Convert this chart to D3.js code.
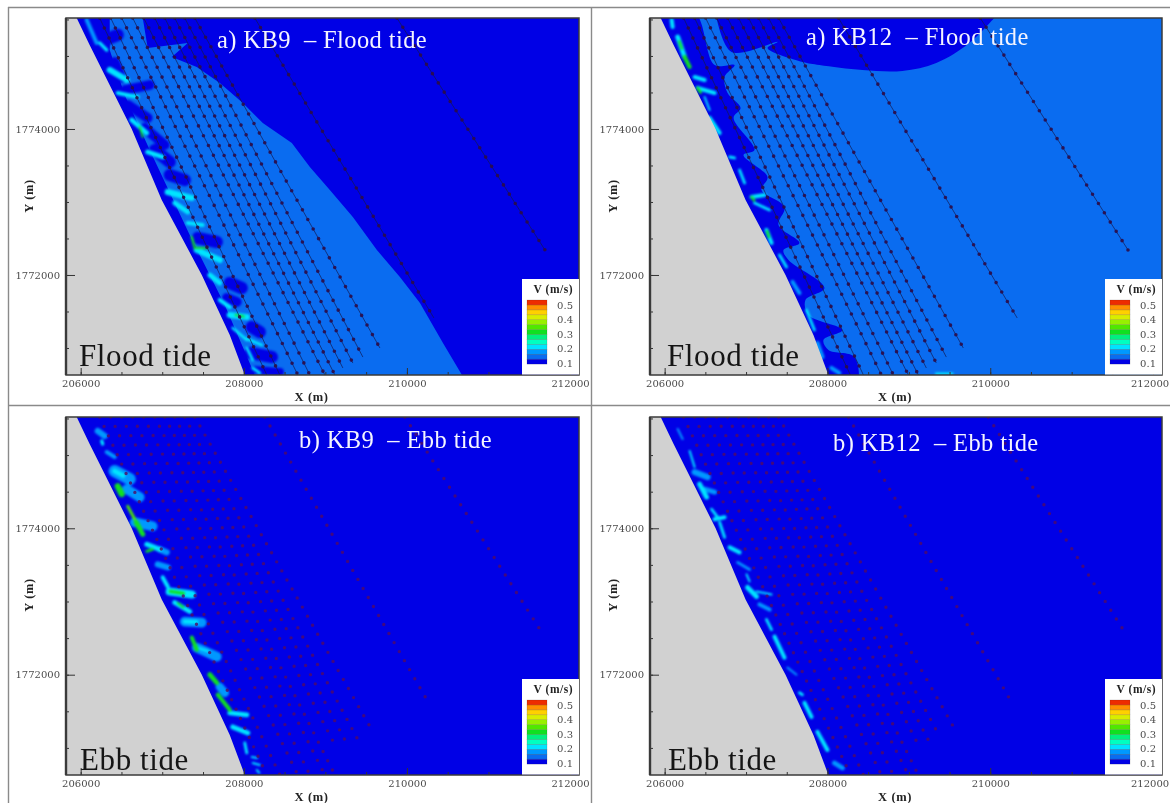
<!DOCTYPE html>
<html>
<head>
<meta charset="utf-8">
<script src="https://cdn.jsdelivr.net/npm/d3@7"></script>
<style>
  html, body { margin: 0; background: #fff; overflow: hidden; }
  svg { display: block; filter: blur(0.45px); }
  text { white-space: pre; }
  .plumes { filter: blur(0.9px); }
</style>
</head>
<body>
<svg id="chart" width="1170" height="803"></svg>
<script>
// Domain of every panel, in model metres
const xDomain = [205820, 212110];
const yDomain = [1770630, 1775520];
const majorTicksX = [206000, 208000, 210000, 212000];
const minorTicksX = d3.range(206000, 212001, 500);
const majorTicksY = [1772000, 1774000];
const minorTicksY = d3.range(1771000, 1775501, 500);

// Legend: contour level edges and the band colours between them
const levelEdges = [0.0925, 0.1265, 0.1605, 0.1945, 0.2285, 0.2625, 0.2965, 0.3305, 0.3645, 0.3985, 0.4325, 0.4665, 0.5005, 0.5345];
const bandColors = ['#0000e6', '#0a6cf0', '#0098ff', '#00e4ff', '#00ffc0', '#00f080', '#10e020', '#50e800', '#98f000', '#d8ee00', '#ffd000', '#ff9000', '#ee2c00'];
const legendTicks = [0.1, 0.2, 0.3, 0.4, 0.5];

// Shoreline, north to south
const coastline = [[205951, 1775520], [206110, 1775150], [206294, 1774740], [206626, 1774000], [206994, 1773027], [207485, 1772000], [207828, 1771178], [208012, 1770630]];

// Transect lines: X at the top edge and the end point
const floodTopX = [206233, 206368, 206503, 206638, 206773, 206908, 207031, 207153, 207276, 207399, 208135, 209877];
const floodEndX = [208282, 208442, 208663, 208810, 208994, 209117, 209215, 209337, 209460, 209669, 210331, 211693];
const floodEndY = [1770630, 1770630, 1770630, 1770630, 1770630, 1770630, 1770726, 1770794, 1770876, 1771000, 1771411, 1772342];
const ebbTopX = [206233, 206368, 206503, 206638, 206773, 206908, 207031, 207153, 207276, 207399, 208258, 209975];
const ebbEndX = [208282, 208442, 208663, 208810, 208994, 209117, 209117, 209239, 209387, 209583, 210245, 211632];
const ebbEndY = [1770630, 1770630, 1770630, 1770630, 1770630, 1770630, 1771041, 1771109, 1771137, 1771219, 1771657, 1772616];

// Contour regions
const kb9FloodMid = [[206356, 1775520], [206761, 1775520], [206822, 1775110], [207313, 1775178], [207117, 1774986], [207423, 1774849], [207706, 1774630], [207988, 1774356], [208233, 1774082], [208589, 1773808], [208810, 1773479], [209055, 1773164], [209337, 1772794], [209632, 1772342], [209914, 1771972], [210160, 1771616], [210442, 1771068], [210675, 1770630], [208135, 1770630], [207767, 1771589], [207337, 1772548], [206847, 1773712], [206540, 1774466], [206356, 1775082]];
const kb12FloodShore = [[205951, 1775600], [206368, 1775600], [206614, 1774877], [206859, 1774877], [206736, 1774712], [206773, 1774493], [206933, 1774288], [206847, 1774151], [207104, 1773712], [206969, 1773644], [207264, 1773342], [207190, 1773164], [207472, 1772931], [207399, 1772685], [207656, 1772438], [207460, 1772342], [207521, 1772205], [207963, 1771822], [207730, 1771657], [207767, 1771452], [208184, 1771246], [207951, 1771109], [208012, 1770972], [208331, 1770876], [208356, 1770500], [208012, 1770500], [207000, 1773000]];
const kb12FloodCap = [[206638, 1775520], [206822, 1775055], [207387, 1775192], [207264, 1775110], [207693, 1774918], [207902, 1774877], [208429, 1774808], [208920, 1774795], [209337, 1774904], [209742, 1775178], [210049, 1775520]];

// Velocity plumes off the shore: x1, y1, x2, y2, width in metres, V
const kb9FloodPlumes = [
  [206294, 1775219, 206454, 1775288, 150, 0.1], [206417, 1774918, 206503, 1774699, 120, 0.1],
  [206540, 1774534, 206847, 1774603, 120, 0.1], [206577, 1774329, 206822, 1774151, 120, 0.1],
  [206785, 1774014, 207031, 1773781, 120, 0.1], [206908, 1773712, 207092, 1773548, 150, 0.1],
  [207092, 1773370, 207276, 1773301, 150, 0.1], [207436, 1772507, 207669, 1772452, 150, 0.1],
  [207828, 1771890, 207975, 1771822, 150, 0.1], [207791, 1771685, 207914, 1771630, 120, 0.1],
  [208098, 1771287, 208196, 1771219, 150, 0.1], [208074, 1770931, 208344, 1770876, 150, 0.1],
  [208135, 1770698, 208442, 1770671, 100, 0.1],
  [206356, 1774808, 206564, 1774671, 75, 0.2], [206454, 1774493, 206699, 1774438, 50, 0.2],
  [206626, 1774123, 206810, 1773945, 60, 0.2], [206724, 1774027, 206761, 1773890, 25, 0.31],
  [206822, 1773685, 207006, 1773616, 60, 0.2], [207067, 1773137, 207362, 1773055, 75, 0.2],
  [207153, 1772986, 207313, 1772863, 60, 0.2], [207313, 1772712, 207497, 1772685, 50, 0.2],
  [207423, 1772342, 207706, 1772205, 75, 0.2], [207362, 1772520, 207399, 1772370, 30, 0.31],
  [207399, 1772370, 207558, 1772370, 25, 0.31], [207583, 1772000, 207706, 1771890, 60, 0.2],
  [207706, 1771657, 207828, 1771561, 50, 0.2], [207828, 1771452, 208037, 1771424, 75, 0.2],
  [207900, 1771452, 208000, 1771430, 25, 0.31], [207865, 1771274, 208037, 1771109, 35, 0.2],
  [208012, 1771137, 208221, 1771041, 35, 0.2], [208037, 1771000, 208110, 1770835, 35, 0.2],
  [208110, 1770726, 208196, 1770657, 35, 0.2], [206074, 1775493, 206196, 1775178, 50, 0.17],
  [206233, 1775178, 206319, 1775082, 40, 0.2]
];
const kb12FloodPlumes = [
  [206086, 1775493, 206098, 1775397, 50, 0.2], [206160, 1775260, 206245, 1774986, 60, 0.2],
  [206180, 1775200, 206210, 1775100, 30, 0.31], [206245, 1774986, 206307, 1774849, 50, 0.31],
  [206368, 1774712, 206491, 1774671, 50, 0.2], [206405, 1774562, 206614, 1774493, 50, 0.2],
  [206405, 1774562, 206440, 1774500, 35, 0.31], [206491, 1774438, 206552, 1774260, 25, 0.2],
  [206552, 1774151, 206675, 1773945, 50, 0.2], [206798, 1773616, 206859, 1773603, 35, 0.2],
  [206920, 1773438, 206982, 1773260, 35, 0.2], [207067, 1773068, 207227, 1773096, 50, 0.2],
  [207067, 1773068, 207100, 1773020, 30, 0.31], [207104, 1772986, 207288, 1772890, 35, 0.2],
  [207251, 1772616, 207313, 1772438, 50, 0.2], [207260, 1772600, 207280, 1772520, 30, 0.31],
  [207411, 1772274, 207497, 1772109, 35, 0.2], [207571, 1771904, 207656, 1771753, 50, 0.17],
  [207742, 1771520, 207840, 1771246, 35, 0.2], [207877, 1771068, 207939, 1770876, 50, 0.17],
  [208049, 1770726, 208147, 1770657, 50, 0.17], [209337, 1770645, 209533, 1770645, 35, 0.2]
];
const kb9EbbPlumes = [
  [206209, 1775329, 206294, 1775260, 75, 0.17], [206258, 1775192, 206270, 1775151, 40, 0.2],
  [206319, 1775041, 206417, 1774973, 50, 0.17], [206417, 1774781, 206601, 1774671, 150, 0.17],
  [206564, 1774534, 206724, 1774425, 120, 0.17], [206663, 1774082, 206883, 1774027, 120, 0.17],
  [207055, 1773671, 206969, 1773712, 75, 0.17], [206945, 1773507, 207067, 1773466, 75, 0.17],
  [207276, 1772726, 207485, 1772712, 120, 0.17], [207423, 1772370, 207669, 1772246, 120, 0.17],
  [207706, 1771835, 207767, 1771753, 100, 0.17],
  [206417, 1774781, 206520, 1774720, 60, 0.2], [206454, 1774575, 206503, 1774466, 75, 0.31],
  [206577, 1774301, 206663, 1774123, 35, 0.36], [206680, 1774082, 206761, 1773918, 60, 0.31],
  [206810, 1773781, 206969, 1773712, 60, 0.2], [206810, 1773685, 206880, 1773712, 35, 0.31],
  [207006, 1773329, 207067, 1773205, 50, 0.2], [207092, 1773137, 207362, 1773096, 100, 0.2],
  [207100, 1773137, 207260, 1773110, 40, 0.31], [207153, 1772986, 207337, 1772863, 60, 0.2],
  [207190, 1772980, 207260, 1772920, 25, 0.31], [207276, 1772726, 207420, 1772720, 50, 0.2],
  [207362, 1772507, 207423, 1772342, 50, 0.31], [207423, 1772370, 207560, 1772320, 30, 0.2],
  [207583, 1772000, 207669, 1771890, 60, 0.31], [207681, 1771726, 207828, 1771520, 50, 0.31],
  [207828, 1771479, 208037, 1771452, 60, 0.2], [207865, 1771287, 208049, 1771205, 60, 0.2],
  [208012, 1771068, 208037, 1770931, 35, 0.2], [208098, 1770876, 208160, 1770863, 25, 0.2],
  [208110, 1770794, 208196, 1770767, 25, 0.2], [208160, 1770698, 208190, 1770660, 25, 0.2]
];
const kb12EbbPlumes = [
  [206160, 1775356, 206221, 1775219, 25, 0.17], [206307, 1775055, 206368, 1774836, 25, 0.2],
  [206368, 1774767, 206528, 1774699, 75, 0.17], [206491, 1774534, 206614, 1774493, 60, 0.17],
  [206429, 1774603, 206515, 1774425, 60, 0.2], [206577, 1774260, 206650, 1774151, 35, 0.2],
  [206614, 1774123, 206736, 1774151, 50, 0.2], [206675, 1774082, 206736, 1773877, 35, 0.2],
  [206798, 1773740, 206920, 1773671, 50, 0.2], [206896, 1773534, 207043, 1773438, 35, 0.17],
  [207006, 1773370, 207043, 1773274, 25, 0.2], [207018, 1773192, 207129, 1773068, 60, 0.2],
  [207129, 1773137, 207313, 1773096, 25, 0.2], [207166, 1772959, 207288, 1772890, 50, 0.17],
  [207251, 1772753, 207313, 1772616, 35, 0.2], [207350, 1772520, 207472, 1772233, 50, 0.2],
  [207509, 1772096, 207620, 1772000, 25, 0.17], [207656, 1771753, 207693, 1771726, 35, 0.2],
  [207718, 1771616, 207804, 1771424, 50, 0.2], [207877, 1771219, 208000, 1770972, 50, 0.2],
  [208086, 1770794, 208184, 1770726, 60, 0.17]
];

// Panel contents
const panelTitles = ['a) KB9  \u2013 Flood tide', 'a) KB12  \u2013 Flood tide', 'b) KB9  \u2013 Ebb tide', 'b) KB12  \u2013 Ebb tide'];
const tideLabels = ['Flood tide', 'Flood tide', 'Ebb tide', 'Ebb tide'];
const panelPlumes = [kb9FloodPlumes, kb12FloodPlumes, kb9EbbPlumes, kb12EbbPlumes];

const svg = d3.select('#chart');
const serif = '"Liberation Serif", serif';
const tickFont = '"DejaVu Serif", serif';
const colorOf = d3.scaleThreshold().domain(levelEdges.slice(1, -1)).range(bandColors);
const deep = bandColors[0];
const mid = bandColors[1];

// Sheet frame
const frame = svg.append('g').attr('stroke', '#8a8a8a').attr('stroke-width', 1.4);
frame.append('line').attr('x1', 8).attr('x2', 1170).attr('y1', 7.5).attr('y2', 7.5);
frame.append('line').attr('x1', 8.5).attr('x2', 8.5).attr('y1', 7).attr('y2', 803);
frame.append('line').attr('x1', 591.5).attr('x2', 591.5).attr('y1', 7).attr('y2', 803);
frame.append('line').attr('x1', 8).attr('x2', 1170).attr('y1', 405.5).attr('y2', 405.5);

const layout = [
  { l: 66, r: 579, t: 18, b: 375, titleX: 217, titleY: 48, labelX: 79, labelY: 366 },
  { l: 650, r: 1162, t: 18, b: 375, titleX: 806, titleY: 45, labelX: 667, labelY: 366 },
  { l: 66, r: 579, t: 417, b: 775, titleX: 299, titleY: 448, labelX: 80, labelY: 770 },
  { l: 650, r: 1162, t: 417, b: 775, titleX: 833, titleY: 451, labelX: 668, labelY: 770 }
];

layout.forEach((p, i) => drawPanel(p, i));

function drawPanel(p, i) {
  const x = d3.scaleLinear().domain(xDomain).range([p.l, p.r]);
  const y = d3.scaleLinear().domain(yDomain).range([p.b, p.t]);
  const area = d3.line().x(d => x(d[0])).y(d => y(d[1]));
  const g = svg.append('g');
  const clipId = 'clip' + i;

  g.append('clipPath').attr('id', clipId).append('rect')
    .attr('x', p.l).attr('y', p.t).attr('width', p.r - p.l).attr('height', p.b - p.t);
  const plot = g.append('g').attr('clip-path', `url(#${clipId})`);

  // contour regions
  plot.append('rect').attr('x', p.l).attr('y', p.t).attr('width', p.r - p.l).attr('height', p.b - p.t)
    .attr('fill', i === 1 ? mid : deep);
  if (i === 0) plot.append('path').attr('d', area(kb9FloodMid) + 'Z').attr('fill', mid);
  if (i === 1) {
    plot.append('path').attr('d', d3.line().x(d => x(d[0])).y(d => y(d[1])).curve(d3.curveCatmullRomClosed)(kb12FloodShore)).attr('fill', deep);
    plot.append('path').attr('d', d3.line().x(d => x(d[0])).y(d => y(d[1])).curve(d3.curveCatmullRom)(kb12FloodCap) + 'Z').attr('fill', deep);
  }

  // plumes, low values underneath
  const plumes = panelPlumes[i].slice().sort((a, b) => a[5] - b[5]);
  plot.append('g').attr('class', 'plumes').selectAll('line').data(plumes).join('line')
    .attr('x1', d => x(d[0])).attr('y1', d => y(d[1]))
    .attr('x2', d => x(d[2])).attr('y2', d => y(d[3]))
    .attr('stroke', d => colorOf(d[5]))
    .attr('stroke-width', d => x(xDomain[0] + d[4]) - x(xDomain[0]))
    .attr('stroke-linecap', 'round');

  // land
  const land = [[xDomain[0], yDomain[1]], ...coastline, [xDomain[0], yDomain[0]]];
  plot.append('path').attr('d', area(land) + 'Z').attr('fill', '#d1d1d1');

  // transects
  const flood = i < 2;
  const topX = flood ? floodTopX : ebbTopX;
  const endX = flood ? floodEndX : ebbEndX;
  const endY = flood ? floodEndY : ebbEndY;
  topX.forEach((tx, k) => {
    const path = area([[tx, yDomain[1]], [endX[k], endY[k]]]);
    if (flood) {
      plot.append('path').attr('d', path).attr('fill', 'none')
        .attr('stroke', '#14184e').attr('stroke-width', 0.9).attr('stroke-opacity', 0.75);
    }
    plot.append('path').attr('d', path).attr('fill', 'none')
      .attr('stroke', flood ? '#2c0c48' : '#520a62').attr('stroke-width', flood ? 3.6 : 3.4)
      .attr('stroke-linecap', 'round')
      .attr('stroke-dasharray', flood ? '0 11' : '0 10.4')
      .attr('stroke-opacity', flood ? 0.9 : 0.8);
  });

  drawAxes(g, x, y, p);
  drawLegend(g, p);

  // panel title and tide label
  g.append('text').attr('x', p.titleX).attr('y', p.titleY)
    .attr('font-family', serif).attr('font-size', 24.5).attr('fill', '#f4f4ff')
    .style('letter-spacing', '0.4px').text(panelTitles[i]);
  g.append('text').attr('x', p.labelX).attr('y', p.labelY)
    .attr('font-family', serif).attr('font-size', 31).attr('fill', '#151515')
    .style('letter-spacing', '0.6px').text(tideLabels[i]);

  // axis titles
  g.append('text').attr('x', x(208830)).attr('y', p.b + 26).attr('text-anchor', 'middle')
    .attr('font-family', serif).attr('font-size', 12.5).attr('font-weight', 'bold').attr('fill', '#222')
    .style('letter-spacing', '0.6px').text('X (m)');
  const yLabelX = p.l - 33;
  const yLabelY = p.t + 178;
  g.append('text').attr('transform', `translate(${yLabelX},${yLabelY}) rotate(-90)`).attr('text-anchor', 'middle')
    .attr('font-family', serif).attr('font-size', 12.5).attr('font-weight', 'bold').attr('fill', '#222')
    .style('letter-spacing', '0.6px').text('Y (m)');
}

function drawAxes(g, x, y, p) {
  const noLabel = () => '';
  const styleAxis = (sel) => {
    sel.select('.domain').remove();
    sel.selectAll('line').attr('stroke', '#333');
    sel.selectAll('text').attr('font-family', tickFont).attr('font-size', 10).attr('fill', '#4a4a4a');
  };
  g.append('g').attr('transform', `translate(0,${p.b})`)
    .call(d3.axisBottom(x).tickValues(minorTicksX).tickSize(-3).tickFormat(noLabel)).call(styleAxis);
  const major = g.append('g').attr('transform', `translate(0,${p.b})`)
    .call(d3.axisBottom(x).tickValues(majorTicksX).tickSize(-7).tickPadding(5).tickFormat(d3.format('d'))).call(styleAxis);
  // last label of the right column sits against the window edge
  if (p.r > 1000) major.selectAll('text').filter(d => d === 212000).attr('dx', -3.5);
  g.append('g').attr('transform', `translate(${p.l},0)`)
    .call(d3.axisLeft(y).tickValues(minorTicksY).tickSize(-3).tickFormat(noLabel)).call(styleAxis);
  g.append('g').attr('transform', `translate(${p.l},0)`)
    .call(d3.axisLeft(y).tickValues(majorTicksY).tickSize(-9).tickPadding(6).tickFormat(d3.format('d'))).call(styleAxis);

  g.append('rect').attr('x', p.l).attr('y', p.t).attr('width', p.r - p.l).attr('height', p.b - p.t)
    .attr('fill', 'none').attr('stroke', '#3a3a3a').attr('stroke-width', 1.5);
  g.append('line').attr('x1', p.l).attr('x2', p.l).attr('y1', p.t).attr('y2', p.b)
    .attr('stroke', '#3a3a3a').attr('stroke-width', 2.4);
}

function drawLegend(g, p) {
  const box = g.append('g');
  box.append('rect').attr('x', p.r - 57).attr('y', p.b - 96).attr('width', 57).attr('height', 95.5).attr('fill', '#fff');
  const v = d3.scaleLinear().domain([0.1, 0.5]).range([p.b - 12, p.b - 70]);
  box.selectAll('.band').data(bandColors).join('rect').attr('class', 'band')
    .attr('x', p.r - 52).attr('width', 20)
    .attr('y', (d, k) => v(levelEdges[k + 1]))
    .attr('height', (d, k) => v(levelEdges[k]) - v(levelEdges[k + 1]))
    .attr('fill', d => d)
    .attr('stroke', '#222').attr('stroke-opacity', 0.3).attr('stroke-width', 0.5);
  box.selectAll('.lab').data(legendTicks).join('text').attr('class', 'lab')
    .attr('x', p.r - 6).attr('y', d => v(d)).attr('dy', '0.36em').attr('text-anchor', 'end')
    .attr('font-family', tickFont).attr('font-size', 10).attr('fill', '#4a4a4a')
    .text(d => d3.format('.1f')(d));
  box.append('text').attr('x', p.r - 6).attr('y', p.b - 82).attr('text-anchor', 'end')
    .attr('font-family', serif).attr('font-size', 11.5).attr('font-weight', 'bold').attr('fill', '#222')
    .style('letter-spacing', '0.5px').text('V (m/s)');
}
</script>
</body>
</html>
